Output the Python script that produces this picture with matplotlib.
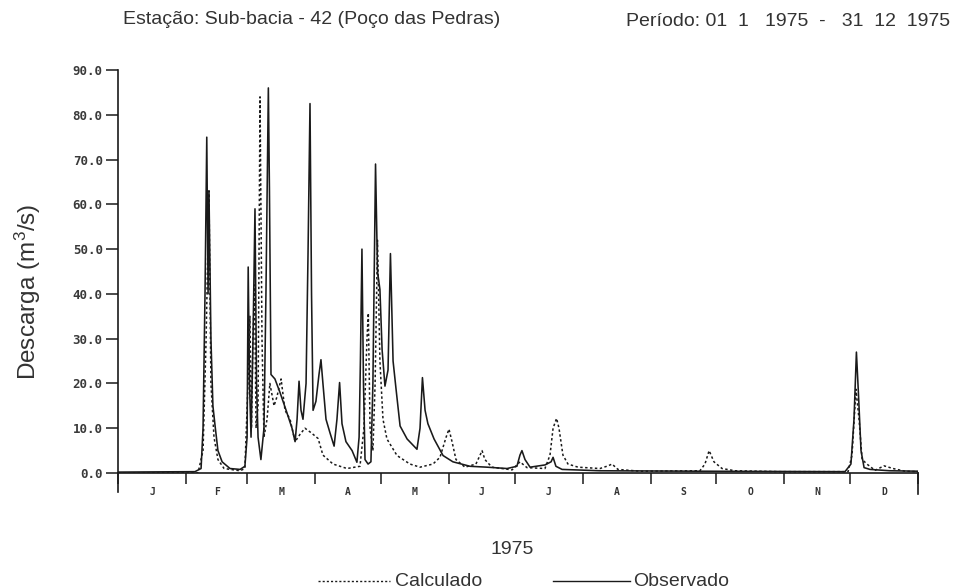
import matplotlib
matplotlib.use("Agg")
import matplotlib.pyplot as plt
from matplotlib.lines import Line2D

plt.rcParams['font.family'] = ['Liberation Sans', 'DejaVu Sans']
plt.rcParams['mathtext.fontset'] = 'custom'
plt.rcParams['mathtext.rm'] = 'Liberation Sans'
plt.rcParams['mathtext.it'] = 'Liberation Sans'

# ---------------- data (day of year, discharge m3/s) ----------------
obs_day = [0.0, 35.1, 37.9, 38.8, 39.7, 40.5, 41.1, 41.5, 42.4, 43.3, 44.3, 45.6, 47.5, 51.1,
           55.7, 57.9, 58.9, 59.4, 60.0, 60.7, 61.6, 62.5, 63.2, 63.9, 65.2, 66.6, 67.5, 68.6,
           69.1, 69.8, 71.6, 73.9, 76.7, 79.4, 80.8, 81.7, 82.6, 83.5, 84.4, 85.8, 86.7, 87.6,
           88.3, 89.0, 90.3, 91.7, 92.6, 93.5, 94.9, 96.7, 98.6, 99.9, 101.1, 102.2, 104.0,
           106.8, 109.0, 110.0, 110.6, 111.3, 112.0, 112.7, 114.1, 115.4, 116.3, 117.5, 118.4,
           119.5, 120.5, 121.8, 123.2, 124.3, 125.5, 126.8, 128.7, 131.9, 136.4, 137.8, 138.9,
           140.1, 141.4, 144.2, 148.3, 152.8, 160.6, 168.4, 177.5, 182.0, 183.4, 184.3, 185.7,
           188.0, 194.8, 197.6, 198.5, 199.8, 202.6, 219.9, 265.5, 331.7, 334.4, 335.8, 336.9,
           337.8, 339.0, 340.4, 343.1, 352.2, 365.0]
obs_val = [0.2, 0.3, 1, 10, 40, 75, 40, 63, 30, 15, 10.5, 5, 2.5, 1,
           0.8, 1.5, 8, 46, 20, 8, 30, 59, 20, 8, 3, 10, 40, 86,
           63, 22, 21, 18, 14, 10, 7, 12, 20.5, 14, 12, 20, 49, 82.5,
           40, 14, 16, 22, 25.3, 20, 12, 9, 6, 12, 20.2, 11, 7,
           5, 2.4, 8, 25, 50, 20, 3, 2, 2.5, 20, 69, 45,
           41, 27.5, 19.4, 23, 49, 25, 19, 10.5, 7.6, 5.3, 10, 21.3,
           14, 11, 7.6, 3.9, 2.5, 1.5, 1.3, 1, 1.5, 4, 5, 3,
           1.3, 1.8, 2.5, 3.5, 1.5, 0.8, 0.5, 0.4, 0.3, 2, 12, 27,
           18, 5, 1.2, 0.8, 0.5, 0.4]

calc_day = [0.0, 36.5, 38.8, 40.2, 41.5, 42.4, 43.8, 45.6, 48.4, 55.7, 57.9, 59.3, 60.2,
            60.9, 61.6, 62.3, 63.0, 63.9, 64.8, 65.7, 66.6, 68.0, 69.3, 71.2, 72.5, 74.4,
            76.2, 78.5, 80.8, 83.0, 85.3, 88.1, 91.3, 93.5, 98.1, 104.5, 110.4, 112.2, 113.6,
            114.2, 115.0, 116.3, 117.3, 118.4, 119.5, 120.9, 122.7, 127.3, 133.2, 137.8,
            143.7, 146.9, 149.7, 151.0, 152.4, 154.2, 158.3, 163.3, 165.2, 166.1, 167.4,
            170.6, 179.8, 183.4, 186.6, 194.8, 197.1, 198.5, 200.1, 201.2, 203.0, 205.3,
            209.9, 219.9, 223.6, 225.4, 228.1, 238.2, 265.5, 267.8, 269.7, 271.9, 275.6,
            281.5, 302.0, 333.1, 334.9, 336.7, 338.1, 339.5, 342.2, 345.4, 349.5, 353.6,
            359.1, 365.0]
calc_val = [0, 0, 5, 30, 63, 20, 8, 3, 1, 0.5, 1, 20, 35,
            10, 30, 42, 10, 15, 84, 30, 8, 12, 20, 15, 17, 21,
            14, 12, 7, 8.6, 10, 9, 7.7, 4, 2, 1, 1.5, 10, 30,
            35.7, 10, 5, 20, 52, 25, 12, 7.6, 3.9, 2, 1.3,
            2, 3.5, 8, 9.8, 7, 3, 1.3, 2, 4, 5, 3,
            1.3, 0.7, 2.5, 1.2, 1, 4, 10, 12.2, 10, 4, 2,
            1.3, 1, 1.6, 2, 0.8, 0.4, 0.5, 2, 5, 2.5, 1,
            0.5, 0.3, 0.3, 4, 18.7, 12, 3, 1.8, 0.6, 1.6, 1,
            0.4, 0.3]

month_starts = [0, 31, 59, 90, 120, 151, 181, 212, 243, 273, 304, 334, 365]
month_labels = ['J', 'F', 'M', 'A', 'M', 'J', 'J', 'A', 'S', 'O', 'N', 'D']
y_ticks = [0, 10, 20, 30, 40, 50, 60, 70, 80, 90]
y_ticklabels = ['0.0', '10.0', '20.0', '30.0', '40.0', '50.0', '60.0', '70.0', '80.0', '90.0']

# ---------------- figure ----------------
W, H = 956, 588
fig = plt.figure(figsize=(W / 100, H / 100), dpi=100)
ax = fig.add_axes([118 / W, 1 - 473 / H, 800 / W, 403 / H])

ink = '#1a1a1a'
ax.plot(calc_day, calc_val, color=ink, lw=1.1, linestyle=(0, (1.6, 1.6)), label='Calculado')
ax.plot(obs_day, obs_val, color=ink, lw=1.15, label='Observado')

ax.set_xlim(0, 365)
ax.set_ylim(0, 90)
for s in ['top', 'right']:
    ax.spines[s].set_visible(False)
for s in ['left', 'bottom']:
    ax.spines[s].set_color(ink)
    ax.spines[s].set_linewidth(1.2)

ax.set_xticks(month_starts)
ax.set_xticklabels([])
ax.tick_params(axis='x', which='major', direction='out', length=8, width=1.1, color=ink)
mids = [(month_starts[i] + month_starts[i + 1]) / 2 for i in range(12)]
ax.set_xticks(mids, minor=True)
ax.set_xticklabels(month_labels, minor=True, fontsize=7, fontweight='bold',
                   family='DejaVu Sans Mono', color='#333333')
ax.tick_params(axis='x', which='minor', length=0, pad=10)

ax.set_yticks(y_ticks)
ax.set_yticklabels(y_ticklabels, fontsize=9, fontweight='bold',
                   family='DejaVu Sans Mono', color='#3a3a3a')
ax.tick_params(axis='y', direction='out', length=9, width=1.1, color=ink, pad=2)

# axis extensions below the baseline at both ends
ax.plot([0, 0], [0, -4.3], color=ink, lw=1.2, clip_on=False)
ax.plot([365, 365], [0, -4.8], color=ink, lw=1.2, clip_on=False)

# ---------------- texts ----------------
txt = '#333333'
fs = 14
fig.text(123 / W, 1 - 19 / H, 'Estação: Sub-bacia - 42 (Poço das Pedras)', fontsize=fs,
         color=txt, ha='left', va='center')
fig.text(950 / W, 1 - 21 / H, 'Período: 01  1   1975  -   31  12  1975', fontsize=fs,
         color=txt, ha='right', va='center')
fig.text(28 / W, 1 - 292 / H, 'Descarga (m$^{3}$/s)', fontsize=17.5, color=txt,
         rotation=90, ha='center', va='center')
fig.text(512 / W, 1 - 549 / H, '1975', fontsize=fs, color=txt, ha='center', va='center')

# legend drawn manually
ly = 1 - 581 / H
fig.add_artist(Line2D([318 / W, 390 / W], [ly, ly], color=ink, lw=1.0,
                      linestyle=(0, (1.5, 1.5)), transform=fig.transFigure))
fig.text(395 / W, ly, 'Calculado', fontsize=fs, color=txt, ha='left', va='center')
fig.add_artist(Line2D([553 / W, 630 / W], [ly, ly], color=ink, lw=1.0,
                      transform=fig.transFigure))
fig.text(633 / W, ly, 'Observado', fontsize=fs, color=txt, ha='left', va='center')

fig.savefig('out.png', dpi=100, facecolor='white')
